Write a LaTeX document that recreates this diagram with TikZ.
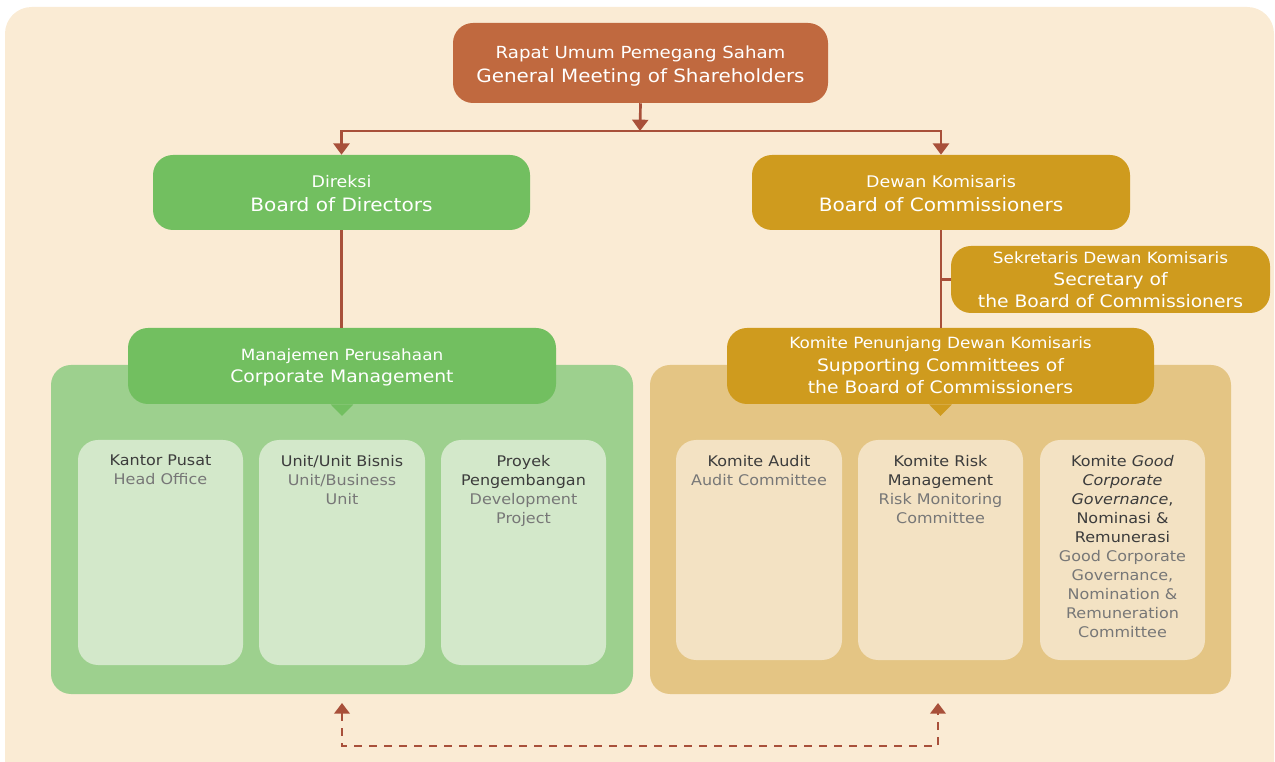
\documentclass[tikz,border=0pt]{standalone}
\usepackage{fontspec}
\setmainfont[FakeStretch=1.09]{DejaVu Sans}
\usetikzlibrary{arrows.meta,fit,calc}

\definecolor{bgc}{HTML}{FAEBD4}
\definecolor{rupsc}{HTML}{C0693F}
\definecolor{gdark}{HTML}{72BF60}
\definecolor{gpanel}{HTML}{9DD08E}
\definecolor{ginner}{HTML}{D3E8CA}
\definecolor{ydark}{HTML}{CF9B1E}
\definecolor{ypanel}{HTML}{E4C584}
\definecolor{yinner}{HTML}{F3E2C3}
\definecolor{linkc}{HTML}{A8503A}
\definecolor{txtdark}{HTML}{3C3C3C}
\definecolor{txtgray}{HTML}{777777}

% two-line headings: a smaller Indonesian line over a larger English line
\newcommand\idline[1]{{\fontsize{11.6}{16.5}\selectfont #1}}

\tikzset{
  hbox/.style={inner sep=0pt, rounded corners=15pt},
  htext/.style={anchor=north, inner sep=0pt, align=center, text=white,
    font=\fontsize{12.9}{16.5}\selectfont},
  panel/.style={inner sep=0pt, rounded corners=15pt},
  unitbox/.style={inner sep=0pt, rounded corners=15pt},
  unittext/.style={anchor=north, inner sep=0pt, align=center, text=txtdark,
    font=\fontsize{11}{14.25}\selectfont},
  conn/.style={draw=linkc, line width=2pt},
  arr/.style={conn, -{Triangle[width=12pt,length=8.5pt]}},
  darr/.style={draw=linkc, line width=2pt, dash pattern=on 6pt off 5.25pt,
    {Triangle[width=11.5pt,length=8pt]}-{Triangle[width=11.5pt,length=8pt]}},
}

\begin{document}
\begin{tikzpicture}[x=0.75pt,y=-0.75pt]
\useasboundingbox (0,0) rectangle (1275,762);
\clip (0,0) rectangle (1275,762);
% backdrop
\fill[bgc, rounded corners=20pt] (5,7) rectangle (1274,800);

% general meeting
\node[hbox, fill=rupsc, fit={(453,23) (828,103)}] (rups) {};
\node[htext, font=\fontsize{13.7}{18}\selectfont] (rupsT) at ($(rups.north)+(0,22.7)$)
  {{\fontsize{12.5}{18}\selectfont Rapat Umum Pemegang Saham}\\General Meeting of Shareholders};

% boards
\node[hbox, fill=gdark, fit={(153,155) (530,230)}] (dir) {};
\node[htext, font=\fontsize{13.8}{18}\selectfont] (dirT) at ($(dir.north)+(0,19.9)$)
  {{\fontsize{12}{18}\selectfont Direksi}\\Board of Directors};
\node[hbox, fill=ydark, fit={(752,155) (1130,230)}] (dk) {};
\node[htext, font=\fontsize{13.8}{18}\selectfont] (dkT) at ($(dk.north)+(0,19.9)$)
  {{\fontsize{12}{18}\selectfont Dewan Komisaris}\\Board of Commissioners};
\node[hbox, fill=ydark, fit={(951,246) (1270,313)}] (sek) {};
\node[htext] (sekT) at ($(sek.north)+(0,6.1)$)
  {\idline{Sekretaris Dewan Komisaris}\\Secretary of\\the Board of Commissioners};

% panels
\node[panel, fill=gpanel, fit={(51,365) (633,694)}] (gp) {};
\node[panel, fill=ypanel, fit={(650,365) (1231,694)}] (yp) {};

\node[hbox, fill=gdark, fit={(128,328) (556,404)}] (mgmt) {};
\fill[gdark] ([xshift=-8.6pt]mgmt.south) -- ([xshift=8.6pt]mgmt.south)
  -- ([yshift=-8.8pt]mgmt.south) -- cycle;
\node[htext] (mgmtT) at ($(mgmt.north)+(0,21.1)$)
  {\idline{Manajemen Perusahaan}\\Corporate Management};

\node[hbox, fill=ydark, fit={(727,328) (1154,404)}] (kp) {};
\fill[ydark] ([xshift=-8.6pt]kp.south) -- ([xshift=8.6pt]kp.south)
  -- ([yshift=-8.8pt]kp.south) -- cycle;
\node[htext, font=\fontsize{12.9}{16.8}\selectfont] (kpT) at ($(kp.north)+(0,9.1)$)
  {\idline{Komite Penunjang Dewan Komisaris}\\Supporting Committees of\\the Board of Commissioners};

% corporate management units
\node[unitbox, fill=ginner, fit={(78,440) (243,665)}] (u1) {};
\node[unitbox, fill=ginner, fit={(259,440) (425,665)}] (u2) {};
\node[unitbox, fill=ginner, fit={(441,440) (606,665)}] (u3) {};
\node[unittext] (t1) at ($(u1.north)+(0,15)$) {Kantor Pusat\\\textcolor{txtgray}{Head Office}};
\node[unittext] (t2) at ($(u2.north)+(0,15)$) {Unit/Unit Bisnis\\\textcolor{txtgray}{Unit/Business}\\\textcolor{txtgray}{Unit}};
\node[unittext] (t3) at ($(u3.north)+(0,15)$) {Proyek\\Pengembangan\\\textcolor{txtgray}{Development}\\\textcolor{txtgray}{Project}};

% committees
\node[unitbox, fill=yinner, fit={(676,440) (842,660)}] (c1) {};
\node[unitbox, fill=yinner, fit={(858,440) (1023,660)}] (c2) {};
\node[unitbox, fill=yinner, fit={(1040,440) (1205,660)}] (c3) {};
\node[unittext] (s1) at ($(c1.north)+(0,15)$) {Komite Audit\\\textcolor{txtgray}{Audit Committee}};
\node[unittext] (s2) at ($(c2.north)+(0,15)$) {Komite Risk\\Management\\\textcolor{txtgray}{Risk Monitoring}\\\textcolor{txtgray}{Committee}};
\node[unittext] (s3) at ($(c3.north)+(0,15)$) {Komite \textit{Good}\\\textit{Corporate}\\\textit{Governance},\\Nominasi \&\\Remunerasi\\\textcolor{txtgray}{Good Corporate}\\\textcolor{txtgray}{Governance,}\\\textcolor{txtgray}{Nomination \&}\\\textcolor{txtgray}{Remuneration}\\\textcolor{txtgray}{Committee}};

% connectors
\coordinate (hub) at (640,131);
\draw[arr] (rups.south) -- (hub);
\draw[arr] (hub) -| (dir.north);
\draw[arr] (hub) -| (dk.north);
\draw[conn] (dir.south) -- (dir.south |- mgmt.north);
\draw[conn] (dk.south) -- (dk.south |- kp.north);
\draw[conn] (dk.south |- sek.west) -- (sek.west);

% dashed link between the two panels
\coordinate (ta) at (342,703);
\coordinate (tb) at (938,703);
\coordinate (dbot) at (640,746);
\draw[darr] (ta) |- (dbot) -| (tb);
\end{tikzpicture}
\end{document}
